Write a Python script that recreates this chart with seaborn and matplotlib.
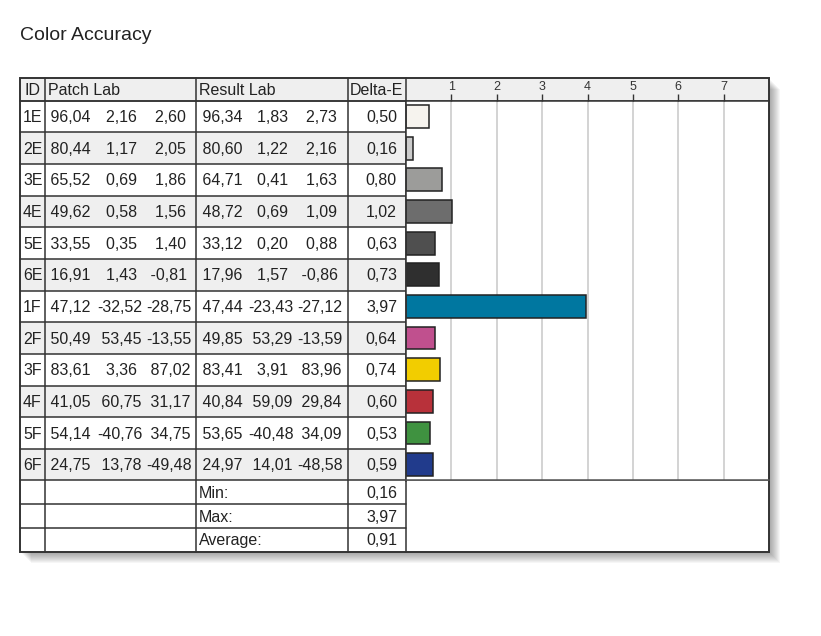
import numpy as np
import pandas as pd
import seaborn as sns
import matplotlib.pyplot as plt
from matplotlib.patches import Rectangle

# Werte aus dem Bild
ids = ["1E", "2E", "3E", "4E", "5E", "6E", "1F", "2F", "3F", "4F", "5F", "6F"]
patch_L = [96.04, 80.44, 65.52, 49.62, 33.55, 16.91, 47.12, 50.49, 83.61, 41.05, 54.14, 24.75]
patch_a = [2.16, 1.17, 0.69, 0.58, 0.35, 1.43, -32.52, 53.45, 3.36, 60.75, -40.76, 13.78]
patch_b = [2.60, 2.05, 1.86, 1.56, 1.40, -0.81, -28.75, -13.55, 87.02, 31.17, 34.75, -49.48]
result_L = [96.34, 80.60, 64.71, 48.72, 33.12, 17.96, 47.44, 49.85, 83.41, 40.84, 53.65, 24.97]
result_a = [1.83, 1.22, 0.41, 0.69, 0.20, 1.57, -23.43, 53.29, 3.91, 59.09, -40.48, 14.01]
result_b = [2.73, 2.16, 1.63, 1.09, 0.88, -0.86, -27.12, -13.59, 83.96, 29.84, 34.09, -48.58]
delta_e = [0.50, 0.16, 0.80, 1.02, 0.63, 0.73, 3.97, 0.64, 0.74, 0.60, 0.53, 0.59]
bar_colors = ["#f6f3ee", "#cbcbcb", "#9c9c9a", "#6d6d6d", "#4f4f4f", "#2f2f2f",
              "#0077a0", "#c0508e", "#f2cd00", "#b8313a", "#3f9240", "#213b8c"]
ticks = [1, 2, 3, 4, 5, 6, 7]
summary_labels = ["Min:", "Max:", "Average:"]
summary_values = [min(delta_e), max(delta_e), float(np.mean(delta_e))]

df = pd.DataFrame({"ID": ids, "DeltaE": delta_e})


def fmt(v, w=6):
    return f"{v:{w}.2f}".replace(".", ",")


sns.set_theme(style="white")
plt.rcParams["font.family"] = ["Liberation Sans", "DejaVu Sans"]

W, H = 821, 636
fig = plt.figure(figsize=(W / 100, H / 100), dpi=100)
fig.patch.set_facecolor("white")

# Layout (Pixel)
left, right = 20, 769
top, head_bot = 77.5, 100.7
row_h = 31.65
sum_h = 23.7
col_x = [20, 44.5, 196, 347.5, 406]
n = len(ids)
body_bot = head_bot + n * row_h
bottom = body_bot + 3 * sum_h
fs = 11.5
txt = "#222222"
line = "#333333"
grey = "#efefef"

ax_t = fig.add_axes([0, 0, 1, 1], zorder=0)
ax_t.set_xlim(0, W)
ax_t.set_ylim(H, 0)
ax_t.axis("off")

ax_t.text(20, 35, "Color Accuracy", fontsize=14, ha="left", va="center", color=txt)

# Schatten
for k in range(2, 12):
    ax_t.add_patch(Rectangle((left + k, top + k), right - left, bottom - top,
                             facecolor="black", alpha=0.035, lw=0))
ax_t.add_patch(Rectangle((left, top), right - left, bottom - top, facecolor="white", lw=0))

# Kopfzeile
ax_t.add_patch(Rectangle((left, top), right - left, head_bot - top, facecolor=grey, lw=0))
headers = ["ID", "Patch Lab", "Result Lab", "Delta-E"]
head_x = [24, 47.5, 199, 350]
for h, x in zip(headers, head_x):
    ax_t.text(x, (top + head_bot) / 2 + 1, h, fontsize=fs, ha="left", va="center", color=txt)

# Zeilen
patch_cols = [46, 97, 146]
result_cols = [198, 248, 297]
for i in range(n):
    y0 = head_bot + i * row_h
    yc = y0 + row_h / 2 + 1
    if i % 2 == 1:
        ax_t.add_patch(Rectangle((left, y0), col_x[4] - left, row_h, facecolor=grey, lw=0))
    ax_t.text(23, yc, ids[i], fontsize=fs, ha="left", va="center", color=txt)
    for x, v in zip(patch_cols, [patch_L[i], patch_a[i], patch_b[i]]):
        ax_t.text(x, yc, fmt(v), fontsize=fs, ha="left", va="center", color=txt)
    for x, v in zip(result_cols, [result_L[i], result_a[i], result_b[i]]):
        ax_t.text(x, yc, fmt(v), fontsize=fs, ha="left", va="center", color=txt)
    ax_t.text(397, yc, fmt(delta_e[i], 4), fontsize=fs, ha="right", va="center", color=txt)
    ax_t.plot([left, col_x[4]], [y0, y0], color=line, lw=1.1)

for j, (lab, val) in enumerate(zip(summary_labels, summary_values)):
    y0 = body_bot + j * sum_h
    yc = y0 + sum_h / 2 + 1
    ax_t.text(199, yc, lab, fontsize=fs, ha="left", va="center", color=txt)
    ax_t.text(397, yc, fmt(val, 4), fontsize=fs, ha="right", va="center", color=txt)
    ax_t.plot([left, col_x[4]], [y0, y0], color=line, lw=1.1)

for x in col_x[1:]:
    ax_t.plot([x, x], [top, bottom], color=line, lw=1.1)
ax_t.plot([left, right], [head_bot, head_bot], color=line, lw=1.1)
ax_t.plot([col_x[4], right], [body_bot, body_bot], color="#555555", lw=1.1)
ax_t.add_patch(Rectangle((left, top), right - left, bottom - top, fill=False,
                         edgecolor=line, lw=1.4))

# Balkendiagramm
ax_b = fig.add_axes([col_x[4] / W, 1 - body_bot / H, (right - col_x[4]) / W,
                     (body_bot - head_bot) / H], zorder=1)
sns.barplot(data=df, x="DeltaE", y="ID", hue="ID", palette=bar_colors, legend=False,
            orient="h", width=0.72, edgecolor="#222222", linewidth=1.1,
            saturation=1, ax=ax_b)
ax_b.set_xlim(0, 8)
ax_b.set_ylim(n - 0.5, -0.5)
ax_b.set_xticks(ticks)
ax_b.set_xticklabels([str(t) for t in ticks])
ax_b.set_yticks([])
ax_b.set_xlabel("")
ax_b.set_ylabel("")
ax_b.tick_params(axis="x", top=True, labeltop=True, bottom=False, labelbottom=False,
                 direction="out", length=5, width=1, color=line, pad=0.5,
                 labelsize=9, labelcolor="#333333")
ax_b.grid(axis="x", color="#c8c8c8", lw=1.1)
ax_b.set_axisbelow(True)
for s in ["top", "left", "right"]:
    ax_b.spines[s].set_color(line)
    ax_b.spines[s].set_linewidth(1.1)
ax_b.spines["right"].set_linewidth(1.4)
ax_b.spines["bottom"].set_color("#555555")
ax_b.spines["bottom"].set_linewidth(1.1)

plt.savefig("out.png", dpi=100)
